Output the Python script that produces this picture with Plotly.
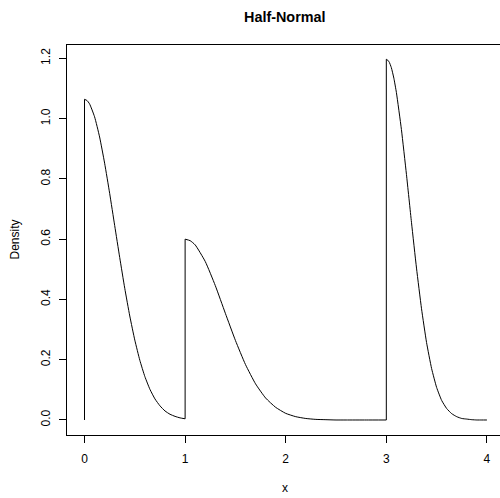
import plotly.graph_objects as go

# ---- data ----
# segment 1 : x in [0, 1)
seg1_x = [0.00, 0.025, 0.05, 0.10, 0.15, 0.20, 0.25, 0.30, 0.35, 0.40, 0.45, 0.50,
          0.55, 0.60, 0.65, 0.70, 0.75, 0.80, 0.85, 0.90, 0.95, 1.00]
seg1_y = [1.064, 1.060, 1.049, 1.006, 0.939, 0.852, 0.752, 0.645, 0.539, 0.437, 0.345, 0.265,
          0.198, 0.144, 0.102, 0.070, 0.047, 0.030, 0.019, 0.012, 0.007, 0.004]
# segment 2 : x in [1, 3)
seg2_x = [1.00, 1.05, 1.10, 1.20, 1.30, 1.40, 1.50, 1.60, 1.70, 1.80, 1.90,
          2.00, 2.10, 2.20, 2.30, 2.40, 2.50, 2.60, 2.80, 3.00]
seg2_y = [0.600, 0.595, 0.581, 0.526, 0.446, 0.354, 0.264, 0.184, 0.120, 0.073, 0.042,
          0.022, 0.011, 0.005, 0.002, 0.001, 0.000, 0.000, 0.000, 0.000]
# segment 3 : x in [3, 4]
seg3_x = [3.00, 3.025, 3.05, 3.075, 3.10, 3.15, 3.20, 3.25, 3.30, 3.35, 3.40, 3.45, 3.50,
          3.55, 3.60, 3.65, 3.70, 3.75, 3.80, 3.85, 3.90, 3.95, 4.00]
seg3_y = [1.197, 1.190, 1.169, 1.134, 1.087, 0.964, 0.815, 0.656, 0.504, 0.369, 0.257, 0.171, 0.108,
          0.065, 0.038, 0.021, 0.011, 0.005, 0.003, 0.001, 0.000, 0.000, 0.000]

x_ticks = [0, 1, 2, 3, 4]
y_ticks = [0.0, 0.2, 0.4, 0.6, 0.8, 1.0, 1.2]
y_tick_text = ["0.0", "0.2", "0.4", "0.6", "0.8", "1.0", "1.2"]

title_text = "Half-Normal"
xlab = "x"
ylab = "Density"

FONT = "Liberation Sans, Arial, Helvetica, sans-serif"

# vertical jumps joining the pieces (start at 0, then at 1 and at 3)
jump_x = [seg1_x[0], seg1_x[0], None, seg1_x[-1], seg2_x[0], None, seg2_x[-1], seg3_x[0]]
jump_y = [0.0, seg1_y[0], None, seg1_y[-1], seg2_y[0], None, seg2_y[-1], seg3_y[0]]

fig = go.Figure()
line_style = dict(color="black", width=1, shape="spline", smoothing=0.5)
for xs, ys in [(seg1_x, seg1_y), (seg2_x, seg2_y), (seg3_x, seg3_y)]:
    fig.add_trace(go.Scatter(x=xs, y=ys, mode="lines", line=line_style,
                             showlegend=False, hoverinfo="skip"))
fig.add_trace(go.Scatter(x=jump_x, y=jump_y, mode="lines",
                         line=dict(color="black", width=1), showlegend=False,
                         hoverinfo="skip", connectgaps=False))

fig.update_layout(
    width=500, height=498,
    margin=dict(l=67, r=0, t=45, b=63, pad=0),
    paper_bgcolor="white", plot_bgcolor="white",
    font=dict(family=FONT, size=12, color="black"),
    showlegend=False,
    xaxis=dict(range=[-0.174, 4.130], tickmode="array", tickvals=x_ticks,
               ticktext=[str(t) for t in x_ticks],
               ticks="outside", ticklen=7, tickwidth=1, tickcolor="black",
               showline=True, linecolor="black", linewidth=1, mirror=True,
               showgrid=False, zeroline=False, ticklabelstandoff=6,
               tickfont=dict(family=FONT, size=12, color="black")),
    yaxis=dict(range=[-0.0498, 1.2442], tickmode="array", tickvals=y_ticks,
               ticktext=y_tick_text, tickangle=-90,
               ticks="outside", ticklen=7, tickwidth=1, tickcolor="black",
               showline=True, linecolor="black", linewidth=1, mirror=False,
               showgrid=False, zeroline=False, ticklabelstandoff=4,
               tickfont=dict(family=FONT, size=12, color="black")),
    annotations=[
        dict(text="<b>" + title_text + "</b>", xref="paper", yref="paper",
             x=0.5046, y=1.0718, showarrow=False, xanchor="center", yanchor="middle",
             font=dict(family=FONT, size=14.4, color="black")),
        dict(text=xlab, xref="paper", yref="paper", x=0.5046, y=-0.136,
             showarrow=False, xanchor="center", yanchor="middle",
             font=dict(family=FONT, size=12, color="black")),
        dict(text=ylab, xref="paper", yref="paper", x=-0.1212, y=0.5,
             showarrow=False, xanchor="center", yanchor="middle", textangle=-90,
             font=dict(family=FONT, size=12, color="black")),
    ],
)

fig.write_html("out.html")
